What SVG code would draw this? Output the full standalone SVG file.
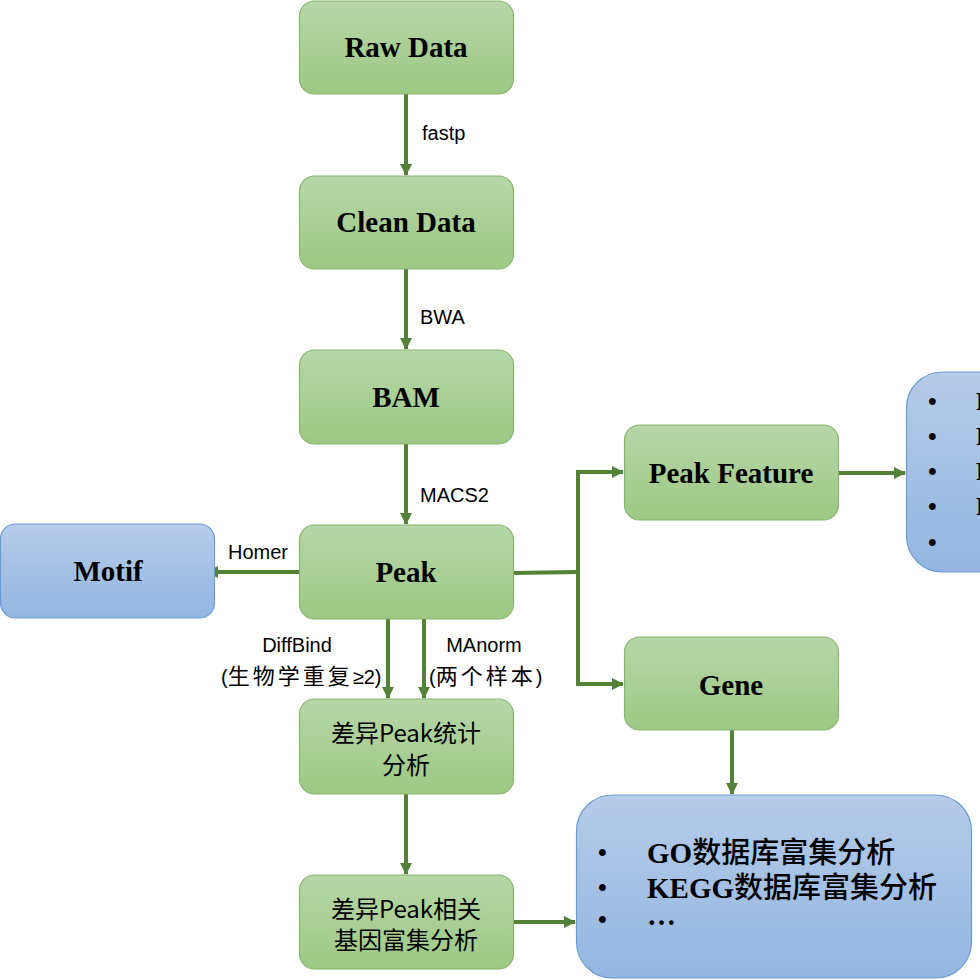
<svg xmlns="http://www.w3.org/2000/svg" width="980" height="980" viewBox="0 0 980 980">
<defs>
<linearGradient id="gG" x1="0" y1="0" x2="0" y2="1"><stop offset="0" stop-color="#b6d7a8"/><stop offset="1" stop-color="#9cc884"/></linearGradient>
<linearGradient id="gB" x1="0" y1="0" x2="0" y2="1"><stop offset="0" stop-color="#b5cce9"/><stop offset="1" stop-color="#93b6e1"/></linearGradient>
<marker id="ar" viewBox="0 0 12 12" refX="11" refY="6" markerWidth="12" markerHeight="12" markerUnits="userSpaceOnUse" orient="auto"><path d="M0,0 L12,6 L0,12 Z" fill="#538135"/></marker>
<style>
.g{fill:url(#gG);stroke:#86b66d;stroke-width:1.2}
.b{fill:url(#gB);stroke:#6d9bd3;stroke-width:1.2}
.t{font-family:"Liberation Serif","Times New Roman",serif;font-weight:bold;font-size:29px;fill:#000;text-anchor:middle}
.c{font-family:"Noto Sans CJK SC","Microsoft YaHei",sans-serif;font-size:24px;fill:#000;text-anchor:middle}
.l{font-family:"Liberation Sans",Arial,"Noto Sans CJK SC",sans-serif;font-size:20px;fill:#000}
.lc{font-family:"Noto Sans CJK SC",sans-serif;font-size:22px;letter-spacing:3px}
.bl{font-family:"Liberation Serif",serif;font-weight:bold;font-size:25px;fill:#000}
.cn{font-family:"Liberation Serif","Noto Sans CJK SC",serif;font-weight:bold;font-size:29px;fill:#000}
.cj{font-family:"Noto Sans CJK SC",sans-serif;font-weight:500}
.e{stroke:#538135;stroke-width:4;fill:none}
</style>
</defs>
<g id="connectors">
<line class="e" x1="406" y1="94" x2="406" y2="175" marker-end="url(#ar)"/>
<line class="e" x1="406" y1="269" x2="406" y2="349" marker-end="url(#ar)"/>
<line class="e" x1="406" y1="444" x2="406" y2="524" marker-end="url(#ar)"/>
<line class="e" x1="299" y1="572" x2="207" y2="572" marker-end="url(#ar)"/>
<polyline class="e" points="513,573 578,572"/>
<polyline class="e" points="623,472 578,472 578,684 623,684" marker-end="url(#ar)"/>
<line class="e" x1="578" y1="472" x2="623" y2="472" marker-end="url(#ar)"/>
<line class="e" x1="839" y1="473" x2="905" y2="473" marker-end="url(#ar)"/>
<line class="e" x1="732" y1="730" x2="732" y2="794" marker-end="url(#ar)"/>
<line class="e" x1="388" y1="619" x2="388" y2="698" marker-end="url(#ar)"/>
<line class="e" x1="424" y1="619" x2="424" y2="698" marker-end="url(#ar)"/>
<line class="e" x1="406" y1="794" x2="406" y2="874" marker-end="url(#ar)"/>
<line class="e" x1="513" y1="922" x2="575" y2="922" marker-end="url(#ar)"/>
<text class="l" x="422" y="140">fastp</text>
<text class="l" x="420" y="324">BWA</text>
<text class="l" x="420" y="502">MACS2</text>
<text class="l" x="228" y="559">Homer</text>
<text class="l" x="297" y="652" text-anchor="middle">DiffBind</text>
<text class="l" x="221" y="684">(<tspan class="lc">生物学重复</tspan>≥2)</text>
<text class="l" x="484" y="652" text-anchor="middle">MAnorm</text>
<text class="l" x="429" y="684">(<tspan class="lc">两个样本</tspan>)</text>
</g>
<g id="raw"><rect class="g" x="299.5" y="1" width="214" height="93" rx="15"/><text class="t" x="406" y="57">Raw Data</text></g>
<g id="clean"><rect class="g" x="299.5" y="176" width="214" height="93" rx="15"/><text class="t" x="406" y="232">Clean Data</text></g>
<g id="bam"><rect class="g" x="299.5" y="350" width="214" height="94" rx="15"/><text class="t" x="406" y="407">BAM</text></g>
<g id="peak"><rect class="g" x="299.5" y="525" width="214" height="94" rx="15"/><text class="t" x="406" y="582">Peak</text></g>
<g id="motif"><rect class="b" x="0.5" y="524" width="214" height="94" rx="15"/><text class="t" x="108" y="581">Motif</text></g>
<g id="peakfeature"><rect class="g" x="624.5" y="425" width="214" height="95" rx="15"/><text class="t" x="731" y="483">Peak Feature</text></g>
<g id="gene"><rect class="g" x="624.5" y="637" width="214" height="93" rx="15"/><text class="t" x="731" y="695">Gene</text></g>
<g id="diffstat"><rect class="g" x="299.5" y="699" width="214" height="95" rx="15"/><text class="c" x="406" y="742">差异Peak统计</text><text class="c" x="406" y="774">分析</text></g>
<g id="diffgene"><rect class="g" x="299.5" y="875" width="214" height="94" rx="15"/><text class="c" x="406" y="918">差异Peak相关</text><text class="c" x="406" y="949">基因富集分析</text></g>
<g id="featurelist"><rect class="b" x="906.5" y="372" width="120" height="200" rx="36"/>
<text class="bl" x="928" y="410">•</text><text class="bl" x="928" y="445">•</text><text class="bl" x="928" y="480">•</text><text class="bl" x="928" y="515">•</text><text class="bl" x="928" y="551">•</text>
<text class="bl" x="976" y="410">Peak</text><text class="bl" x="976" y="445">Peak</text><text class="bl" x="976" y="480">Peak</text><text class="bl" x="976" y="515">Peak</text>
</g>
<g id="enrich"><rect class="b" x="576.5" y="795" width="395" height="183" rx="36"/>
<text class="bl" x="598" y="861">•</text><text class="cn" x="647" y="863">GO<tspan class="cj">数据库富集分析</tspan></text>
<text class="bl" x="598" y="896">•</text><text class="cn" x="647" y="898">KEGG<tspan class="cj">数据库富集分析</tspan></text>
<text class="bl" x="598" y="928">•</text><text class="cn" x="647" y="925">…</text>
</g>
</svg>
